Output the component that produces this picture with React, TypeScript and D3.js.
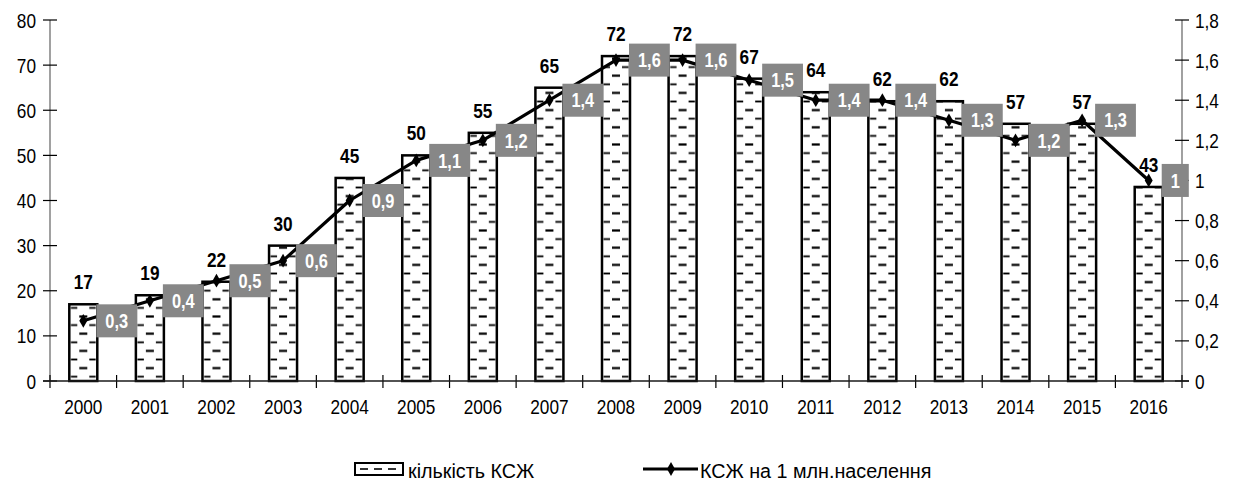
import React from 'react';
import * as d3 from 'd3';

const years = ['2000', '2001', '2002', '2003', '2004', '2005', '2006', '2007', '2008', '2009', '2010', '2011', '2012', '2013', '2014', '2015', '2016'];
const counts = [17, 19, 22, 30, 45, 50, 55, 65, 72, 72, 67, 64, 62, 62, 57, 57, 43];
const perMillion = [0.3, 0.4, 0.5, 0.6, 0.9, 1.1, 1.2, 1.4, 1.6, 1.6, 1.5, 1.4, 1.4, 1.3, 1.2, 1.3, 1];
const leftTicks = [0, 10, 20, 30, 40, 50, 60, 70, 80];
const rightTicks = [0, 0.2, 0.4, 0.6, 0.8, 1, 1.2, 1.4, 1.6, 1.8];
const seriesNames = ['кількість КСЖ', 'КСЖ на 1 млн.населення'];

const W = 1236;
const H = 484;
const left = 50;
const right = 1182;
const top = 20;
const bottom = 381;
const FONT = '"Liberation Sans", Arial, sans-serif';
const GREY = '#878787';
const NARROW = 0.82; // Arial Narrow look-alike

const fmt = (v: number) => String(v).replace('.', ',');

// text squeezed horizontally, like the narrow font of the original
function NText(props: { x: number; y: number; children: React.ReactNode; anchor?: string; size?: number; bold?: boolean; fill?: string; dy?: string; sx?: number }) {
  const { x, y, children, anchor = 'start', size = 21, bold, fill = '#000', dy, sx = NARROW } = props;
  return (
    <text transform={`translate(${x},${y}) scale(${sx},1)`} textAnchor={anchor} fontSize={size}
      fontWeight={bold ? 'bold' : 'normal'} fill={fill} dy={dy}>{children}</text>
  );
}

export default function App() {
  const x = d3.scaleBand<string>().domain(years).range([left, right]);
  const yL = d3.scaleLinear().domain([0, 80]).range([bottom, top]);
  const yR = d3.scaleLinear().domain([0, 1.8]).range([bottom, top]);
  const barW = 28;
  const cx = (d: string) => (x(d) ?? 0) + x.bandwidth() / 2;

  const line = d3.line<number>()
    .x((_, i) => cx(years[i]))
    .y(d => yR(d));

  const diamond = d3.symbol().type(d3.symbolDiamond).size(55)();

  const textW = (s: string) => s.split('').reduce((a, c) => a + (c === ',' ? 4.6 : 9.1), 0);

  return (
    <svg width={W} height={H} style={{ position: 'absolute', left: 0, top: 0, background: '#fff' }} fontFamily={FONT}>
      <defs>
        {years.map((yr, i) => {
          const bx = cx(yr) - barW / 2;
          return (
            <pattern key={yr} id={`dash-${i}`} patternUnits="userSpaceOnUse" x={bx} y={bottom} width={barW} height={17.2}>
              <rect width={barW} height={17.2} fill="#fff" />
              <line x1={10} x2={18} y1={4.3} y2={4.3} stroke="#000" strokeWidth={2.2} />
              <line x1={1.5} x2={8} y1={12.9} y2={12.9} stroke="#000" strokeWidth={1.8} />
              <line x1={20} x2={26.5} y1={12.9} y2={12.9} stroke="#000" strokeWidth={1.8} />
            </pattern>
          );
        })}
      </defs>

      {/* left axis */}
      <line x1={left} x2={left} y1={top} y2={bottom} stroke="#6e6e6e" strokeWidth={1.3} />
      {leftTicks.map(t => (
        <g key={'l' + t}>
          <line x1={left - 7} x2={left + 7} y1={yL(t)} y2={yL(t)} stroke="#000" strokeWidth={1.2} />
          <NText x={left - 14} y={yL(t)} dy="0.36em" anchor="end">{t}</NText>
        </g>
      ))}

      {/* right axis */}
      <line x1={right} x2={right} y1={top} y2={bottom} stroke="#6e6e6e" strokeWidth={1.3} />
      {rightTicks.map(t => (
        <g key={'r' + t}>
          <line x1={right - 7} x2={right + 7} y1={yR(t)} y2={yR(t)} stroke="#000" strokeWidth={1.2} />
          <NText x={right + 13} y={yR(t)} dy="0.36em">{fmt(t)}</NText>
        </g>
      ))}

      {/* category ticks */}
      {years.map(yr => (
        <line key={'t' + yr} x1={x(yr)} x2={x(yr)} y1={bottom - 6} y2={bottom + 7} stroke="#000" strokeWidth={1.2} />
      ))}
      <line x1={right} x2={right} y1={bottom - 6} y2={bottom + 7} stroke="#000" strokeWidth={1.2} />

      {/* bars */}
      {counts.map((v, i) => (
        <rect key={'b' + i} x={cx(years[i]) - barW / 2} y={yL(v)} width={barW} height={bottom - yL(v)}
          fill={`url(#dash-${i})`} stroke="#000" strokeWidth={2.5} />
      ))}

      {/* baseline */}
      <line x1={left - 7} x2={right + 7} y1={bottom} y2={bottom} stroke="#1a1a1a" strokeWidth={1.3} />

      {/* x labels */}
      {years.map(yr => (
        <NText key={'x' + yr} x={cx(yr)} y={414} anchor="middle">{yr}</NText>
      ))}

      {/* bar value labels */}
      {counts.map((v, i) => (
        <NText key={'v' + i} x={cx(years[i])} y={yL(v) - 15} anchor="middle" bold>{v}</NText>
      ))}

      {/* line */}
      <path d={line(perMillion) ?? ''} fill="none" stroke="#000" strokeWidth={3.2} strokeLinejoin="round" />
      {perMillion.map((v, i) => (
        <path key={'m' + i} d={diamond ?? ''} transform={`translate(${cx(years[i])},${yR(v)})`} fill="#000" />
      ))}

      {/* line labels */}
      {perMillion.map((v, i) => {
        const s = fmt(v);
        const bw = textW(s) + 18;
        const bx = cx(years[i]) + 13;
        const by = yR(v);
        return (
          <g key={'p' + i}>
            <rect x={bx} y={by - 16.5} width={bw} height={33} fill={GREY} />
            <NText x={bx + bw / 2} y={by} dy="0.36em" anchor="middle" size={20} bold fill="#fff">{s}</NText>
          </g>
        );
      })}

      {/* legend */}
      <g>
        <rect x={355} y={463} width={48} height={12} fill="#fff" stroke="#000" strokeWidth={2} />
        {[0, 1, 2].map(k => (
          <line key={k} x1={360 + k * 14} x2={368 + k * 14} y1={469} y2={469} stroke="#000" strokeWidth={1.6} />
        ))}
        <NText x={408} y={478} sx={0.94}>{seriesNames[0]}</NText>
        <line x1={643} x2={698} y1={469} y2={469} stroke="#000" strokeWidth={3.2} />
        <path d={diamond ?? ''} transform="translate(671,469)" fill="#000" />
        <NText x={700} y={478} sx={0.94}>{seriesNames[1]}</NText>
      </g>
    </svg>
  );
}
